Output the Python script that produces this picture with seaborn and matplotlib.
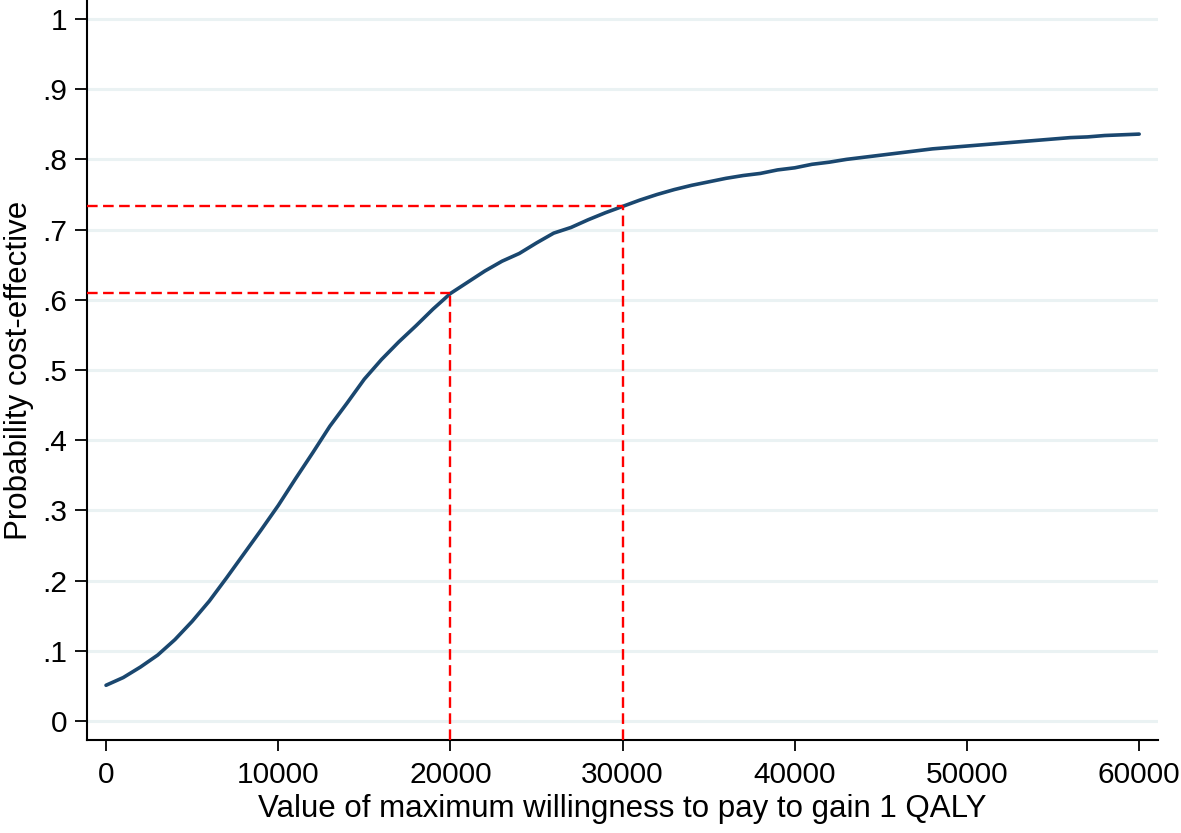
import matplotlib
matplotlib.use("Agg")
import matplotlib.pyplot as plt
import seaborn as sns
import pandas as pd

# Cost-effectiveness acceptability curve
wtp = [0, 1000, 2000, 3000, 4000, 5000, 6000, 7000, 8000, 9000,
       10000, 11000, 12000, 13000, 14000, 15000, 16000, 17000, 18000, 19000,
       20000, 21000, 22000, 23000, 24000, 25000, 26000, 27000, 28000, 29000,
       30000, 31000, 32000, 33000, 34000, 35000, 36000, 37000, 38000, 39000,
       40000, 41000, 42000, 43000, 44000, 45000, 46000, 47000, 48000, 49000,
       50000, 51000, 52000, 53000, 54000, 55000, 56000, 57000, 58000, 59000,
       60000]
prob = [0.051, 0.062, 0.077, 0.094, 0.116, 0.142, 0.171, 0.204, 0.238, 0.272,
        0.307, 0.345, 0.382, 0.420, 0.453, 0.487, 0.515, 0.540, 0.563, 0.587,
        0.609, 0.625, 0.641, 0.655, 0.666, 0.681, 0.695, 0.703, 0.714, 0.724,
        0.733, 0.742, 0.750, 0.757, 0.763, 0.768, 0.773, 0.777, 0.780, 0.785,
        0.788, 0.793, 0.796, 0.800, 0.803, 0.806, 0.809, 0.812, 0.815, 0.817,
        0.819, 0.821, 0.823, 0.825, 0.827, 0.829, 0.831, 0.832, 0.834, 0.835,
        0.836]

# thresholds marked with red dashed guides
thresholds = [20000, 30000]
threshold_probs = [0.609, 0.733]

x_ticks = [0, 10000, 20000, 30000, 40000, 50000, 60000]
y_ticks = [0, 0.1, 0.2, 0.3, 0.4, 0.5, 0.6, 0.7, 0.8, 0.9, 1.0]
y_tick_labels = ['0', '.1', '.2', '.3', '.4', '.5', '.6', '.7', '.8', '.9', '1']

sns.set_style('white')
plt.rcParams.update({
    'font.family': ['Liberation Sans', 'DejaVu Sans'],
    'font.size': 21.5,
    'axes.labelsize': 22.5,
    'text.color': 'black',
    'axes.labelcolor': 'black',
    'axes.edgecolor': 'black',
    'xtick.color': 'black',
    'ytick.color': 'black',
    'axes.linewidth': 1.5,
    'xtick.major.width': 1.3,
    'ytick.major.width': 1.3,
    'xtick.major.size': 8,
    'ytick.major.size': 9,
    'xtick.major.pad': 7,
    'ytick.major.pad': 5,
    'xtick.bottom': True,
    'ytick.left': True,
})

df = pd.DataFrame({'wtp': wtp, 'prob': prob})

fig = plt.figure(figsize=(11.81, 8.33), dpi=100)
ax = fig.add_axes([0.0737, 0.1116, 0.9068, 0.8884])

xmin, xmax = -1103, 61092
ymin, ymax = -0.027, 1.027

for yt in y_ticks:
    ax.axhline(yt, color='#EAF2F3', lw=2.2, zorder=0)

sns.lineplot(data=df, x='wtp', y='prob', color='#1a476f', lw=2.6, ax=ax, zorder=3)

for t, p in zip(thresholds, threshold_probs):
    ax.plot([xmin, t], [p, p], color='#FF0000', lw=1.7, dashes=(4.5, 2.3), zorder=4)
    ax.plot([t, t], [ymin, p], color='#FF0000', lw=1.7, dashes=(4.5, 2.3), zorder=4)

ax.set_xlim(xmin, xmax)
ax.set_ylim(ymin, ymax)
ax.set_xticks(x_ticks)
ax.set_xticklabels([str(v) for v in x_ticks])
ax.set_yticks(y_ticks)
ax.set_yticklabels(y_tick_labels)
ax.set_xlabel('Value of maximum willingness to pay to gain 1 QALY', labelpad=4)
ax.set_ylabel('Probability cost-effective', labelpad=6)
sns.despine(ax=ax)

fig.savefig('out.png', dpi=100, facecolor='white')
